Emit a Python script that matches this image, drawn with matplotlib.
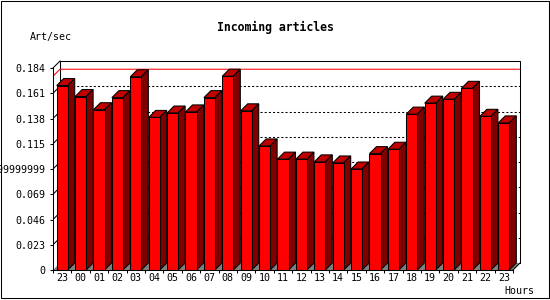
import matplotlib
matplotlib.use("Agg")
import matplotlib.pyplot as plt
from matplotlib.patches import Polygon, Rectangle

# Data
hours = ["23", "00", "01", "02", "03", "04", "05", "06", "07", "08", "09", "10",
         "11", "12", "13", "14", "15", "16", "17", "18", "19", "20", "21", "22", "23"]
rate = [0.168, 0.158, 0.146, 0.157, 0.176, 0.139, 0.143, 0.144, 0.157, 0.1765,
        0.145, 0.113, 0.101, 0.101, 0.0985, 0.0975, 0.092, 0.106, 0.110, 0.142,
        0.152, 0.1555, 0.1655, 0.140, 0.134]
yticks = [0, 0.023, 0.046, 0.069, 0.092, 0.115, 0.138, 0.161, 0.184]
ytick_labels = ["0", "0.023", "0.046", "0.069", "0.09199999999999999",
                "0.115", "0.138", "0.161", "0.184"]

# 3d look
n = len(rate)
ymax = yticks[-1]
px_x = 460 / n            # pixels per slot
px_y = 202 / ymax         # pixels per unit
dx = 7 / px_x             # depth in slots
dy = 7 / px_y             # depth in value units
bw = 0.6                  # front face width
off = 0.2

front_col = "#ff0000"
top_col = "#c00000"
side_col = "#800000"
floor_col = "#808080"
lw = 0.75

mono = "DejaVu Sans Mono"

fig = plt.figure(figsize=(5.5, 3.0), dpi=100)
fig.patch.set_facecolor("white")
ax = fig.add_axes([53 / 550, 30 / 300, 467 / 550, 209 / 300])
ax.set_xlim(0, n + dx)
ax.set_ylim(0, ymax + dy)
ax.set_facecolor("none")
for s in ["top", "right"]:
    ax.spines[s].set_visible(False)
ax.spines["left"].set_bounds(0, ymax)
ax.spines["bottom"].set_bounds(0, n)
ax.spines["left"].set_linewidth(lw)
ax.spines["bottom"].set_linewidth(lw)
ax.spines["left"].set_zorder(6)
ax.spines["bottom"].set_zorder(6)

# floor
ax.add_patch(Polygon([(0, 0), (n, 0), (n + dx, dy), (dx, dy)],
                     closed=True, fc=floor_col, ec="none", zorder=1))
# back frame
ax.plot([dx, dx, n + dx, n + dx], [dy, ymax + dy, ymax + dy, dy],
        color="black", lw=lw, zorder=2, clip_on=False)
ax.plot([0, dx], [ymax, ymax + dy], color="black", lw=lw, zorder=2, clip_on=False)
ax.plot([n, n + dx], [0, dy], color="black", lw=lw, zorder=2, clip_on=False)

# grid on back wall
for v in yticks[1:-1]:
    ax.plot([0, dx], [v, v + dy], color="black", lw=lw, zorder=2)
    ax.plot([dx, n + dx], [v + dy, v + dy], color="black", lw=lw,
            ls=(0, (2, 2)), zorder=2)

# max line
vmax = max(rate)
ax.plot([0, dx, n + dx], [vmax, vmax + dy, vmax + dy], color="red", lw=lw, zorder=2)

# bars
x0 = [i + off for i in range(n)]
ax.bar(x0, rate, width=bw, align="edge", color=front_col, edgecolor="black",
       linewidth=lw, zorder=4)
for xa, v in zip(x0, rate):
    xb = xa + bw
    ax.add_patch(Polygon([(xa, v), (xb, v), (xb + dx, v + dy), (xa + dx, v + dy)],
                         closed=True, fc=top_col, ec="black", lw=lw, zorder=3))
    ax.add_patch(Polygon([(xb, 0), (xb + dx, dy), (xb + dx, v + dy), (xb, v)],
                         closed=True, fc=side_col, ec="black", lw=lw, zorder=3))

# ticks
ax.set_yticks(yticks)
ax.set_yticklabels(ytick_labels, fontfamily=mono, fontsize=7.2)
ax.tick_params(axis="y", direction="out", length=2.2, width=lw, pad=3.6)
ax.set_xticks(range(n + 1))
ax.set_xticklabels([])
ax.set_xticks([i + off + bw / 2 for i in range(n)], minor=True)
ax.set_xticklabels(hours, minor=True, fontfamily=mono, fontsize=7.2)
ax.tick_params(axis="x", which="major", direction="out", length=2.2, width=lw)
ax.tick_params(axis="x", which="minor", length=0, pad=2.2)

# texts
fig.text(275 / 550, 1 - 27 / 300, "Incoming articles", ha="center", va="center",
         fontfamily=mono, fontweight="bold", fontsize=8.3)
fig.text(30 / 550, 1 - 37 / 300, "Art/sec", ha="left", va="center",
         fontfamily=mono, fontsize=7.2)
fig.text(504 / 550, 1 - 291.5 / 300, "Hours", ha="left", va="center",
         fontfamily=mono, fontsize=7.2)

# outer border
fig.patches.append(Rectangle((0.5 / 550, 2 / 300), 548 / 550, 297.5 / 300,
                             transform=fig.transFigure, fill=False,
                             ec="black", lw=lw))

fig.savefig("out.png", dpi=100)
